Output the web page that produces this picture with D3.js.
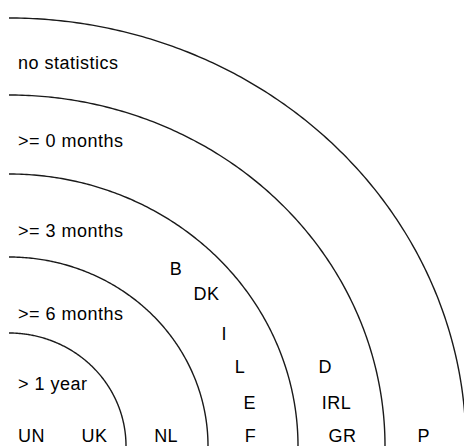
<!DOCTYPE html>
<html>
<head>
<meta charset="utf-8">
<script src="https://cdn.jsdelivr.net/npm/d3@7"></script>
<style>
  html,body{margin:0;padding:0;background:#fff;}
  svg{display:block;}
  text{font-family:"Liberation Sans",Arial,sans-serif;font-size:18px;fill:#000;letter-spacing:0.5px;}
</style>
</head>
<body>
<div id="chart"></div>
<script>
// ring bands, inner to outer
const bandNames = ['> 1 year', '>= 6 months', '>= 3 months', '>= 0 months', 'no statistics']
// level where each band label sits
const bandLabelLevel = [0.55, 1.25, 2.32, 3.42, 4.42]
// ring borders
const ringLevels = [1, 2, 3, 4, 5]

// countries: level (0..5 from the corner) and angle in degrees
const countries = ['UN', 'UK', 'NL', 'B', 'DK', 'I', 'L', 'E', 'F', 'D', 'IRL', 'GR', 'P']
const countryLevel = [0.213, 0.737, 1.494, 2.58, 2.62, 2.52, 2.52, 2.51, 2.475, 3.44, 3.48, 3.513, 4.48]
const countryAngle = [25.3, 7.1, 3.9, 48.3, 39.2, 28.9, 19.9, 10.7, 2.6, 14.9, 8.0, 1.9, 1.5]

const width = 464, height = 446
const cx = 9, cy = 446

// level -> horizontal / vertical radius (rings are a bit wider than tall)
const rx = d3.scaleLinear().domain([0, 1, 2, 3, 4, 5]).range([0, 117, 199, 289, 376, 457])
const ry = d3.scaleLinear().domain([0, 1, 2, 3, 4, 5]).range([0, 113, 189, 272, 351, 428])
const rad = d3.scaleLinear().domain([0, 90]).range([0, Math.PI / 2])

const px = (l, a) => cx + rx(l) * Math.cos(rad(a))
const py = (l, a) => cy - ry(l) * Math.sin(rad(a))

const svg = d3.select('#chart').append('svg')
    .attr('width', width)
    .attr('height', height)

svg.append('rect').attr('width', width).attr('height', height).attr('fill', '#fff')

// quarter rings
const steps = d3.range(0, 90.25, 0.5)
const line = d3.line()
svg.append('g').attr('class', 'rings')
    .selectAll('path')
    .data(ringLevels)
    .join('path')
    .attr('d', l => line(steps.map(a => [px(l, a), py(l, a)])))
    .attr('fill', 'none')
    .attr('stroke', '#1a1a1a')
    .attr('stroke-width', 1.4)

// band labels on the left
svg.append('g').attr('class', 'bands')
    .selectAll('text')
    .data(bandNames)
    .join('text')
    .attr('x', 18)
    .attr('y', (d, i) => cy - ry(bandLabelLevel[i]))
    .attr('dy', '0.35em')
    .text(d => d)

// country codes
svg.append('g').attr('class', 'countries')
    .selectAll('text')
    .data(countries)
    .join('text')
    .attr('x', (d, i) => px(countryLevel[i], countryAngle[i]))
    .attr('y', (d, i) => py(countryLevel[i], countryAngle[i]))
    .attr('dy', '0.35em')
    .attr('text-anchor', 'middle')
    .text(d => d)
</script>
</body>
</html>
